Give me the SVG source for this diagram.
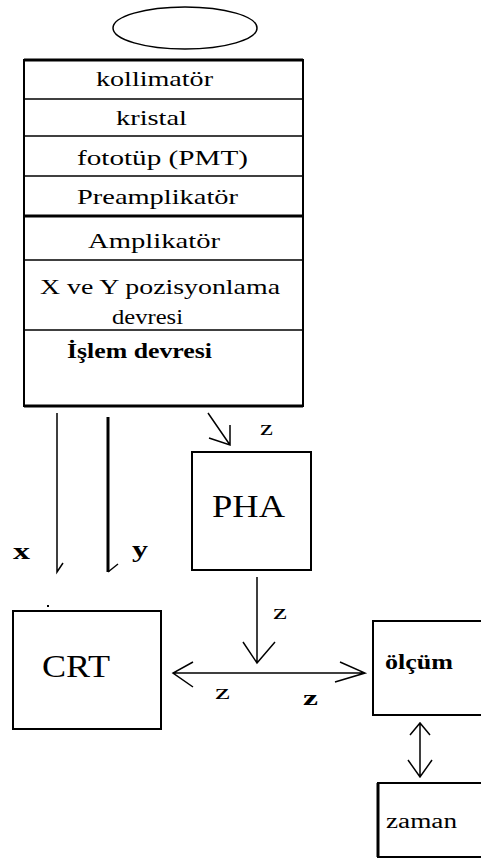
<svg xmlns="http://www.w3.org/2000/svg" width="481" height="859" viewBox="0 0 481 859">
<style>
.box{fill:#fff;stroke:#000;stroke-width:2}
.div{stroke:#000;stroke-width:1.5}
.t{font-family:"Liberation Serif","DejaVu Serif",serif;fill:#000}
.ln{fill:none;stroke:#000;stroke-width:1.5}
</style>
<rect width="481" height="859" fill="#fff"/>
<g id="ellipse">
<ellipse cx="185" cy="28" rx="72" ry="21" fill="#fff" stroke="#000" stroke-width="1.5"/>
</g>
<g id="main-box">
<rect class="box" x="24" y="60" width="279" height="346"/>
<line x1="24" y1="60" x2="303" y2="60" stroke="#000" stroke-width="3"/>
<line class="div" x1="24" y1="99" x2="303" y2="99"/>
<line class="div" x1="24" y1="136" x2="303" y2="136"/>
<line class="div" x1="24" y1="176" x2="303" y2="176"/>
<line x1="24" y1="216" x2="303" y2="216" stroke="#000" stroke-width="3"/>
<line class="div" x1="24" y1="260" x2="303" y2="260"/>
<line class="div" x1="24" y1="330" x2="303" y2="330"/>
<line x1="24" y1="406" x2="303" y2="406" stroke="#000" stroke-width="3"/>
<text class="t" x="96" y="86" font-size="22" textLength="117" lengthAdjust="spacingAndGlyphs">kollimatör</text>
<text class="t" x="116" y="125" font-size="22" textLength="71" lengthAdjust="spacingAndGlyphs">kristal</text>
<text class="t" x="77" y="165" font-size="22" textLength="171" lengthAdjust="spacingAndGlyphs">fototüp (PMT)</text>
<text class="t" x="77" y="204" font-size="22" textLength="161" lengthAdjust="spacingAndGlyphs">Preamplikatör</text>
<text class="t" x="88" y="248" font-size="22" textLength="132" lengthAdjust="spacingAndGlyphs">Amplikatör</text>
<text class="t" x="40" y="294" font-size="22" textLength="240" lengthAdjust="spacingAndGlyphs">X ve Y pozisyonlama</text>
<text class="t" x="112" y="324" font-size="22" textLength="71" lengthAdjust="spacingAndGlyphs">devresi</text>
<text class="t" x="67" y="358" font-size="22" font-weight="bold" textLength="145" lengthAdjust="spacingAndGlyphs">İşlem devresi</text>
</g>
<g id="pha">
<rect class="box" x="192" y="452" width="119" height="118" stroke-width="1.5"/>
<text class="t" x="212" y="517" font-size="32" textLength="73" lengthAdjust="spacingAndGlyphs">PHA</text>
</g>
<g id="crt">
<rect class="box" x="13" y="611" width="148" height="118" stroke-width="1.5"/>
<text class="t" x="42" y="677" font-size="32" textLength="68" lengthAdjust="spacingAndGlyphs">CRT</text>
<rect x="47" y="605" width="2" height="2" fill="#000"/>
</g>
<g id="olcum">
<rect class="box" x="373" y="621" width="120" height="94" stroke-width="1.5"/>
<text class="t" x="385" y="669" font-size="20" font-weight="bold" textLength="68" lengthAdjust="spacingAndGlyphs">ölçüm</text>
</g>
<g id="zaman">
<rect class="box" x="378" y="783" width="120" height="74" stroke-width="1.5"/>
<line x1="378" y1="783" x2="378" y2="857" stroke="#000" stroke-width="3"/>
<text class="t" x="386" y="828" font-size="20" textLength="71" lengthAdjust="spacingAndGlyphs">zaman</text>
</g>
<g id="connectors">
<path class="ln" d="M57,413 V572 L63,563"/>
<path d="M108,417 V572" stroke="#000" stroke-width="3" fill="none"/>
<path class="ln" d="M108,572 L118,564"/>
<path class="ln" d="M208,413 L230,445 M230,425 V445 L209,438"/>
<path class="ln" d="M257,577 V663 M243,642 L257,663 L275,642"/>
<path class="ln" d="M173,673 H365 M193,662 L173,673 L193,687 M340,662 L365,673 L335,682"/>
<path class="ln" d="M420,723 V777 M410,735 L420,723 L430,735 M408,760 L420,777 L432,760"/>
</g>
<g id="labels">
<text class="t" x="13" y="559" font-size="24" font-weight="bold" textLength="17" lengthAdjust="spacingAndGlyphs">x</text>
<text class="t" x="132" y="557" font-size="24" font-weight="bold" textLength="16" lengthAdjust="spacingAndGlyphs">y</text>
<text class="t" x="260" y="435" font-size="20" textLength="13" lengthAdjust="spacingAndGlyphs">z</text>
<text class="t" x="273" y="619" font-size="20" textLength="14" lengthAdjust="spacingAndGlyphs">z</text>
<text class="t" x="215" y="699" font-size="20" textLength="15" lengthAdjust="spacingAndGlyphs">z</text>
<text class="t" x="303" y="705" font-size="20" font-weight="bold" textLength="15" lengthAdjust="spacingAndGlyphs">z</text>
</g>
</svg>
